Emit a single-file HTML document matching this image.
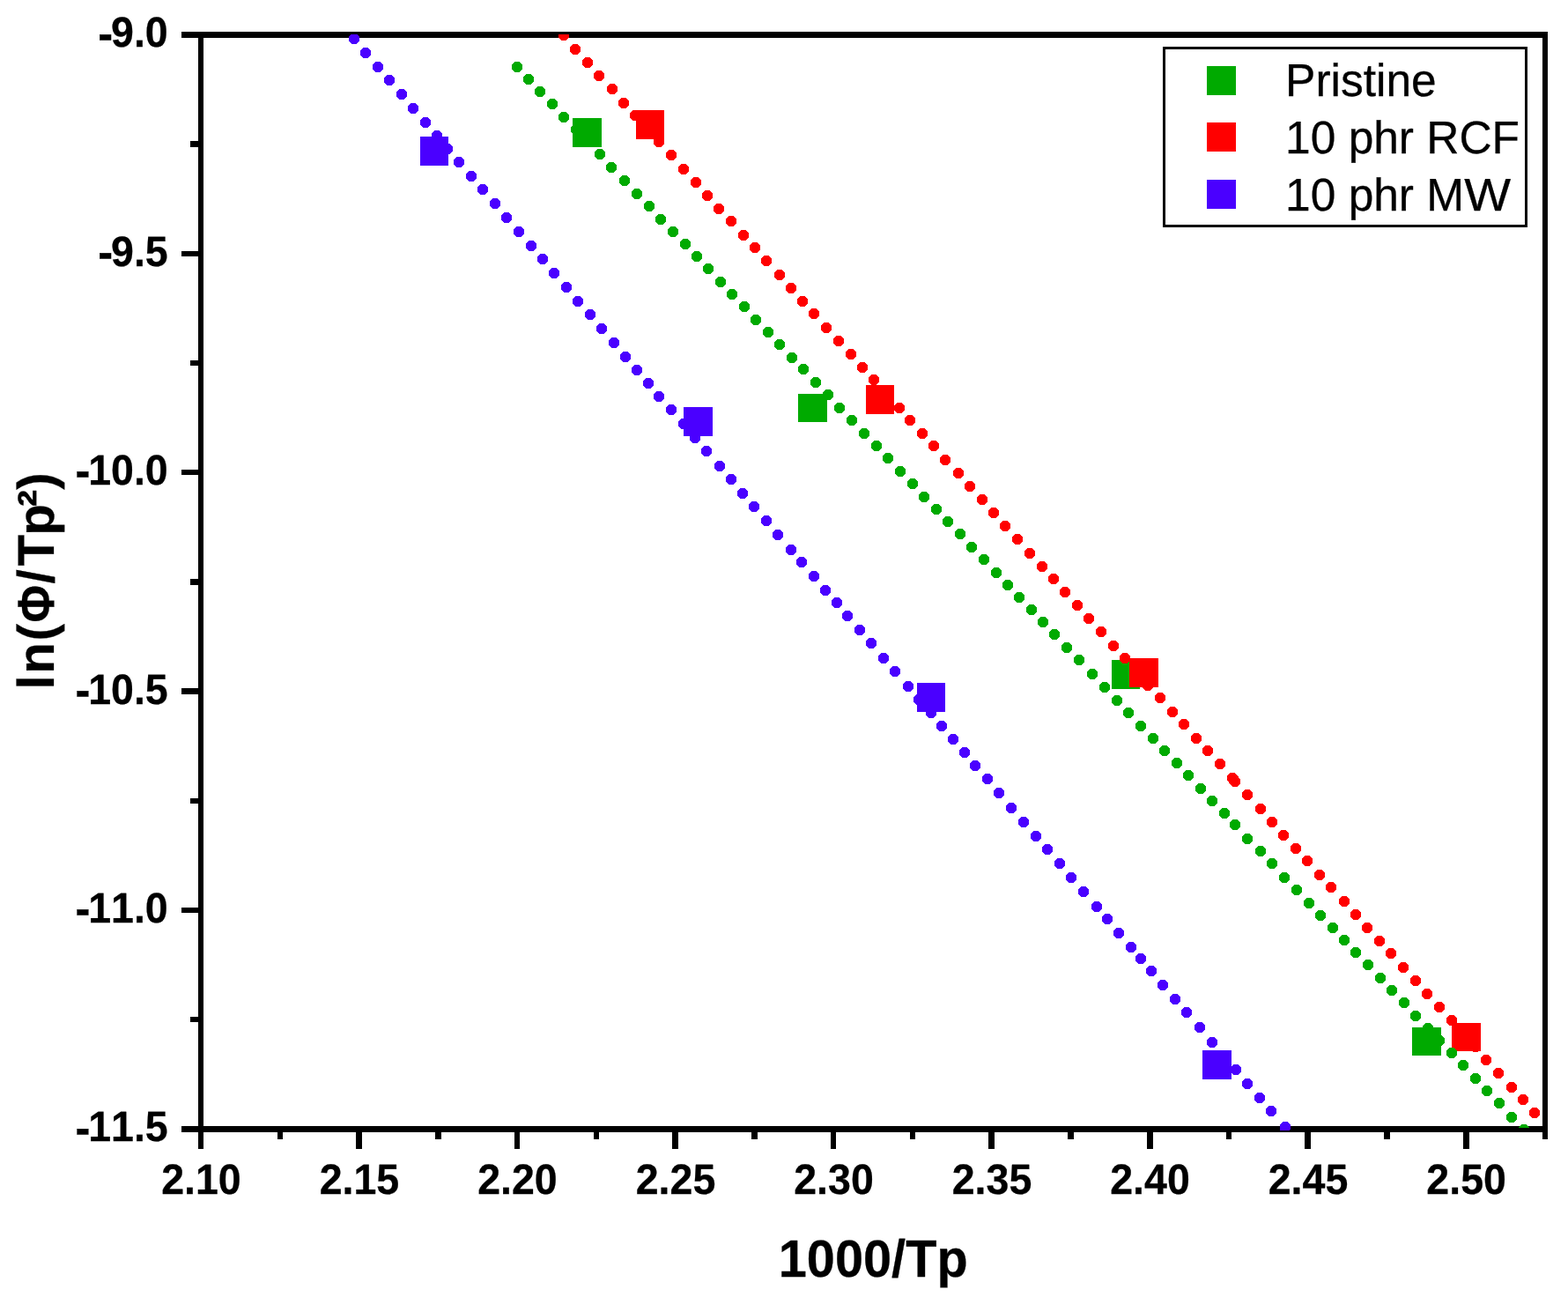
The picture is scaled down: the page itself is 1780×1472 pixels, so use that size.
<!DOCTYPE html>
<html lang="en">
<head>
<meta charset="utf-8">
<title>ln(Φ/Tp²) vs 1000/Tp</title>
<style>
html,body{margin:0;padding:0;background:#fff;}
body{width:1780px;height:1472px;overflow:hidden;position:relative;font-family:"Liberation Sans",sans-serif;}
svg{position:absolute;left:0;top:0;display:block;}
text{font-family:"Liberation Sans",sans-serif;fill:#000;font-kerning:none;font-variant-ligatures:none;text-rendering:geometricPrecision;}
.tick{font-weight:bold;font-size:48.2px;stroke:#000;stroke-width:0.3px;}
.hy{font-size:52.5px;}
.title{font-weight:bold;font-size:59.6px;stroke:#000;stroke-width:0.3px;}
.ytitle{font-weight:bold;font-size:58.5px;stroke:#000;stroke-width:0.3px;}
.leg{font-size:52.2px;stroke:#000;stroke-width:0.3px;}
</style>
</head>
<body>
<svg width="1780" height="1472" viewBox="0 0 1780 1472">
<rect x="0" y="0" width="1780" height="1472" fill="#fff"/>

<g id="axes" shape-rendering="crispEdges" fill="#000">
<rect x="206" y="36" width="1551" height="7"/>
<rect x="206" y="1278" width="1551" height="7"/>
<rect x="225" y="36" width="6" height="1268"/>
<rect x="1751" y="36" width="6" height="1257"/>
<rect x="216" y="160" width="10" height="7"/>
<rect x="206" y="285" width="20" height="6"/>
<rect x="216" y="409" width="10" height="6"/>
<rect x="206" y="533" width="20" height="6"/>
<rect x="216" y="657" width="10" height="7"/>
<rect x="206" y="781" width="20" height="7"/>
<rect x="216" y="906" width="10" height="6"/>
<rect x="206" y="1030" width="20" height="6"/>
<rect x="216" y="1154" width="10" height="6"/>
<rect x="315" y="1284" width="6" height="9"/>
<rect x="404" y="1284" width="7" height="20"/>
<rect x="494" y="1284" width="7" height="9"/>
<rect x="584" y="1284" width="6" height="20"/>
<rect x="674" y="1284" width="6" height="9"/>
<rect x="763" y="1284" width="7" height="20"/>
<rect x="853" y="1284" width="7" height="9"/>
<rect x="943" y="1284" width="6" height="20"/>
<rect x="1033" y="1284" width="6" height="9"/>
<rect x="1122" y="1284" width="7" height="20"/>
<rect x="1212" y="1284" width="7" height="9"/>
<rect x="1302" y="1284" width="7" height="20"/>
<rect x="1392" y="1284" width="6" height="9"/>
<rect x="1481" y="1284" width="7" height="20"/>
<rect x="1571" y="1284" width="7" height="9"/>
<rect x="1661" y="1284" width="7" height="20"/>
</g>
<defs><clipPath id="plotclip"><rect x="228" y="39" width="1526" height="1244"/></clipPath><clipPath id="gend"><rect x="1700" y="1260" width="60" height="20"/></clipPath></defs>
<g id="data" clip-path="url(#plotclip)" shape-rendering="crispEdges">
<g fill="#00aa00">
<rect x="650" y="134" width="33" height="33"/>
<rect x="906" y="447" width="33" height="32"/>
<rect x="1262" y="749" width="32" height="33"/>
<rect x="1603" y="1166" width="33" height="32"/>
</g>
<g fill="#ff0000">
<rect x="722" y="125" width="32" height="33"/>
<rect x="983" y="437" width="32" height="33"/>
<rect x="1282" y="747" width="33" height="33"/>
<rect x="1648" y="1161" width="33" height="32"/>
</g>
<g fill="#4a00ff">
<rect x="477" y="155" width="32" height="33"/>
<rect x="776" y="462" width="33" height="33"/>
<rect x="1041" y="775" width="32" height="33"/>
<rect x="1365" y="1192" width="33" height="33"/>
</g>
<g fill="#00aa00">
<circle cx="587" cy="76" r="6.25"/>
<circle cx="600" cy="90" r="6.25"/>
<circle cx="613" cy="104" r="6.25"/>
<circle cx="627" cy="118" r="6.25"/>
<circle cx="640" cy="133" r="6.25"/>
<circle cx="654" cy="147" r="6.25"/>
<circle cx="668" cy="161" r="6.25"/>
<circle cx="681" cy="175" r="6.25"/>
<circle cx="694" cy="190" r="6.25"/>
<circle cx="709" cy="205" r="6.25"/>
<circle cx="723" cy="220" r="6.25"/>
<circle cx="737" cy="234" r="6.25"/>
<circle cx="750" cy="249" r="6.25"/>
<circle cx="764" cy="263" r="6.25"/>
<circle cx="778" cy="277" r="6.25"/>
<circle cx="791" cy="291" r="6.25"/>
<circle cx="804" cy="305" r="6.25"/>
<circle cx="818" cy="320" r="6.25"/>
<circle cx="831" cy="334" r="6.25"/>
<circle cx="845" cy="348" r="6.25"/>
<circle cx="858" cy="363" r="6.25"/>
<circle cx="872" cy="377" r="6.25"/>
<circle cx="885" cy="391" r="6.25"/>
<circle cx="899" cy="406" r="6.25"/>
<circle cx="912" cy="419" r="6.25"/>
<circle cx="926" cy="434" r="6.25"/>
<circle cx="940" cy="448" r="6.25"/>
<circle cx="953" cy="463" r="6.25"/>
<circle cx="967" cy="477" r="6.25"/>
<circle cx="981" cy="492" r="6.25"/>
<circle cx="995" cy="506" r="6.25"/>
<circle cx="1008" cy="520" r="6.25"/>
<circle cx="1022" cy="535" r="6.25"/>
<circle cx="1036" cy="549" r="6.25"/>
<circle cx="1049" cy="564" r="6.25"/>
<circle cx="1063" cy="578" r="6.25"/>
<circle cx="1076" cy="592" r="6.25"/>
<circle cx="1090" cy="606" r="6.25"/>
<circle cx="1103" cy="621" r="6.25"/>
<circle cx="1117" cy="635" r="6.25"/>
<circle cx="1131" cy="650" r="6.25"/>
<circle cx="1144" cy="664" r="6.25"/>
<circle cx="1157" cy="678" r="6.25"/>
<circle cx="1171" cy="692" r="6.25"/>
<circle cx="1184" cy="706" r="6.25"/>
<circle cx="1197" cy="720" r="6.25"/>
<circle cx="1211" cy="735" r="6.25"/>
<circle cx="1225" cy="749" r="6.25"/>
<circle cx="1240" cy="765" r="6.25"/>
<circle cx="1254" cy="780" r="6.25"/>
<circle cx="1268" cy="795" r="6.25"/>
<circle cx="1281" cy="809" r="6.25"/>
<circle cx="1295" cy="824" r="6.25"/>
<circle cx="1309" cy="838" r="6.25"/>
<circle cx="1322" cy="852" r="6.25"/>
<circle cx="1336" cy="866" r="6.25"/>
<circle cx="1349" cy="880" r="6.25"/>
<circle cx="1363" cy="895" r="6.25"/>
<circle cx="1376" cy="909" r="6.25"/>
<circle cx="1390" cy="923" r="6.25"/>
<circle cx="1402" cy="936" r="6.25"/>
<circle cx="1416" cy="952" r="6.25"/>
<circle cx="1431" cy="966" r="6.25"/>
<circle cx="1444" cy="980" r="6.25"/>
<circle cx="1458" cy="996" r="6.25"/>
<circle cx="1472" cy="1010" r="6.25"/>
<circle cx="1486" cy="1025" r="6.25"/>
<circle cx="1499" cy="1039" r="6.25"/>
<circle cx="1513" cy="1053" r="6.25"/>
<circle cx="1526" cy="1067" r="6.25"/>
<circle cx="1539" cy="1081" r="6.25"/>
<circle cx="1553" cy="1095" r="6.25"/>
<circle cx="1567" cy="1110" r="6.25"/>
<circle cx="1580" cy="1124" r="6.25"/>
<circle cx="1594" cy="1138" r="6.25"/>
<circle cx="1607" cy="1153" r="6.25"/>
<circle cx="1621" cy="1167" r="6.25"/>
<circle cx="1634" cy="1181" r="6.25"/>
<circle cx="1648" cy="1195" r="6.25"/>
<circle cx="1661" cy="1209" r="6.25"/>
<circle cx="1675" cy="1224" r="6.25"/>
<circle cx="1688" cy="1238" r="6.25"/>
<circle cx="1702" cy="1252" r="6.25"/>
<circle cx="1716" cy="1268" r="6.25"/>
<circle cx="1730" cy="1282" r="6.25" clip-path="url(#gend)"/>
</g>
<g fill="#ff0000">
<circle cx="640" cy="40" r="6.25"/>
<circle cx="653" cy="56" r="6.25"/>
<circle cx="667" cy="71" r="6.25"/>
<circle cx="680" cy="86" r="6.25"/>
<circle cx="695" cy="101" r="6.25"/>
<circle cx="708" cy="117" r="6.25"/>
<circle cx="721" cy="131" r="6.25"/>
<circle cx="735" cy="146" r="6.25"/>
<circle cx="748" cy="161" r="6.25"/>
<circle cx="762" cy="176" r="6.25"/>
<circle cx="776" cy="192" r="6.25"/>
<circle cx="790" cy="207" r="6.25"/>
<circle cx="803" cy="222" r="6.25"/>
<circle cx="816" cy="237" r="6.25"/>
<circle cx="830" cy="251" r="6.25"/>
<circle cx="844" cy="267" r="6.25"/>
<circle cx="857" cy="281" r="6.25"/>
<circle cx="870" cy="296" r="6.25"/>
<circle cx="885" cy="312" r="6.25"/>
<circle cx="898" cy="327" r="6.25"/>
<circle cx="911" cy="342" r="6.25"/>
<circle cx="924" cy="356" r="6.25"/>
<circle cx="938" cy="372" r="6.25"/>
<circle cx="952" cy="387" r="6.25"/>
<circle cx="966" cy="402" r="6.25"/>
<circle cx="979" cy="417" r="6.25"/>
<circle cx="992" cy="431" r="6.25"/>
<circle cx="1007" cy="447" r="6.25"/>
<circle cx="1021" cy="463" r="6.25"/>
<circle cx="1033" cy="477" r="6.25"/>
<circle cx="1047" cy="492" r="6.25"/>
<circle cx="1060" cy="506" r="6.25"/>
<circle cx="1073" cy="522" r="6.25"/>
<circle cx="1088" cy="537" r="6.25"/>
<circle cx="1101" cy="552" r="6.25"/>
<circle cx="1115" cy="567" r="6.25"/>
<circle cx="1128" cy="582" r="6.25"/>
<circle cx="1141" cy="597" r="6.25"/>
<circle cx="1155" cy="612" r="6.25"/>
<circle cx="1169" cy="628" r="6.25"/>
<circle cx="1183" cy="643" r="6.25"/>
<circle cx="1196" cy="657" r="6.25"/>
<circle cx="1209" cy="672" r="6.25"/>
<circle cx="1223" cy="687" r="6.25"/>
<circle cx="1236" cy="702" r="6.25"/>
<circle cx="1250" cy="717" r="6.25"/>
<circle cx="1264" cy="733" r="6.25"/>
<circle cx="1277" cy="747" r="6.25"/>
<circle cx="1290" cy="762" r="6.25"/>
<circle cx="1303" cy="778" r="6.25"/>
<circle cx="1317" cy="792" r="6.25"/>
<circle cx="1331" cy="808" r="6.25"/>
<circle cx="1344" cy="822" r="6.25"/>
<circle cx="1358" cy="838" r="6.25"/>
<circle cx="1371" cy="852" r="6.25"/>
<circle cx="1385" cy="867" r="6.25"/>
<circle cx="1399" cy="883" r="6.25"/>
<circle cx="1402" cy="887" r="6.25"/>
<circle cx="1416" cy="902" r="6.25"/>
<circle cx="1431" cy="918" r="6.25"/>
<circle cx="1444" cy="933" r="6.25"/>
<circle cx="1457" cy="948" r="6.25"/>
<circle cx="1471" cy="963" r="6.25"/>
<circle cx="1484" cy="977" r="6.25"/>
<circle cx="1498" cy="993" r="6.25"/>
<circle cx="1511" cy="1007" r="6.25"/>
<circle cx="1526" cy="1023" r="6.25"/>
<circle cx="1539" cy="1038" r="6.25"/>
<circle cx="1552" cy="1053" r="6.25"/>
<circle cx="1566" cy="1068" r="6.25"/>
<circle cx="1579" cy="1082" r="6.25"/>
<circle cx="1593" cy="1098" r="6.25"/>
<circle cx="1607" cy="1113" r="6.25"/>
<circle cx="1620" cy="1128" r="6.25"/>
<circle cx="1634" cy="1143" r="6.25"/>
<circle cx="1648" cy="1158" r="6.25"/>
<circle cx="1661" cy="1173" r="6.25"/>
<circle cx="1675" cy="1188" r="6.25"/>
<circle cx="1687" cy="1203" r="6.25"/>
<circle cx="1701" cy="1218" r="6.25"/>
<circle cx="1716" cy="1234" r="6.25"/>
<circle cx="1729" cy="1248" r="6.25"/>
<circle cx="1742" cy="1263" r="6.25"/>
<line x1="1399" y1="883" x2="1402" y2="887" stroke="#ff0000" stroke-width="12.5" stroke-linecap="round"/>
</g>
<g fill="#4a00ff">
<circle cx="402" cy="44" r="6.25"/>
<circle cx="415" cy="60" r="6.25"/>
<circle cx="429" cy="76" r="6.25"/>
<circle cx="442" cy="91" r="6.25"/>
<circle cx="456" cy="107" r="6.25"/>
<circle cx="469" cy="123" r="6.25"/>
<circle cx="483" cy="139" r="6.25"/>
<circle cx="496" cy="154" r="6.25"/>
<circle cx="508" cy="169" r="6.25"/>
<circle cx="521" cy="184" r="6.25"/>
<circle cx="535" cy="200" r="6.25"/>
<circle cx="548" cy="215" r="6.25"/>
<circle cx="562" cy="231" r="6.25"/>
<circle cx="575" cy="247" r="6.25"/>
<circle cx="589" cy="263" r="6.25"/>
<circle cx="603" cy="279" r="6.25"/>
<circle cx="616" cy="294" r="6.25"/>
<circle cx="629" cy="310" r="6.25"/>
<circle cx="643" cy="326" r="6.25"/>
<circle cx="656" cy="342" r="6.25"/>
<circle cx="670" cy="357" r="6.25"/>
<circle cx="683" cy="373" r="6.25"/>
<circle cx="697" cy="389" r="6.25"/>
<circle cx="710" cy="405" r="6.25"/>
<circle cx="723" cy="420" r="6.25"/>
<circle cx="736" cy="435" r="6.25"/>
<circle cx="748" cy="450" r="6.25"/>
<circle cx="762" cy="465" r="6.25"/>
<circle cx="776" cy="481" r="6.25"/>
<circle cx="789" cy="497" r="6.25"/>
<circle cx="802" cy="512" r="6.25"/>
<circle cx="817" cy="529" r="6.25"/>
<circle cx="830" cy="544" r="6.25"/>
<circle cx="843" cy="560" r="6.25"/>
<circle cx="856" cy="575" r="6.25"/>
<circle cx="870" cy="591" r="6.25"/>
<circle cx="883" cy="607" r="6.25"/>
<circle cx="898" cy="624" r="6.25"/>
<circle cx="910" cy="638" r="6.25"/>
<circle cx="924" cy="654" r="6.25"/>
<circle cx="937" cy="670" r="6.25"/>
<circle cx="950" cy="684" r="6.25"/>
<circle cx="962" cy="699" r="6.25"/>
<circle cx="976" cy="715" r="6.25"/>
<circle cx="989" cy="730" r="6.25"/>
<circle cx="1003" cy="747" r="6.25"/>
<circle cx="1016" cy="762" r="6.25"/>
<circle cx="1031" cy="779" r="6.25"/>
<circle cx="1043" cy="794" r="6.25"/>
<circle cx="1057" cy="809" r="6.25"/>
<circle cx="1069" cy="824" r="6.25"/>
<circle cx="1082" cy="839" r="6.25"/>
<circle cx="1095" cy="854" r="6.25"/>
<circle cx="1107" cy="869" r="6.25"/>
<circle cx="1121" cy="884" r="6.25"/>
<circle cx="1134" cy="900" r="6.25"/>
<circle cx="1148" cy="917" r="6.25"/>
<circle cx="1162" cy="933" r="6.25"/>
<circle cx="1176" cy="949" r="6.25"/>
<circle cx="1189" cy="964" r="6.25"/>
<circle cx="1203" cy="980" r="6.25"/>
<circle cx="1216" cy="996" r="6.25"/>
<circle cx="1230" cy="1012" r="6.25"/>
<circle cx="1245" cy="1029" r="6.25"/>
<circle cx="1257" cy="1043" r="6.25"/>
<circle cx="1270" cy="1059" r="6.25"/>
<circle cx="1284" cy="1075" r="6.25"/>
<circle cx="1295" cy="1088" r="6.25"/>
<circle cx="1307" cy="1102" r="6.25"/>
<circle cx="1320" cy="1118" r="6.25"/>
<circle cx="1334" cy="1134" r="6.25"/>
<circle cx="1347" cy="1149" r="6.25"/>
<circle cx="1362" cy="1166" r="6.25"/>
<circle cx="1376" cy="1183" r="6.25"/>
<circle cx="1389" cy="1199" r="6.25"/>
<circle cx="1403" cy="1214" r="6.25"/>
<circle cx="1416" cy="1230" r="6.25"/>
<circle cx="1430" cy="1246" r="6.25"/>
<circle cx="1443" cy="1261" r="6.25"/>
<circle cx="1459" cy="1279" r="6.25"/>
<rect x="1453" y="1279" width="11" height="6"/>
</g>
</g>
<g id="legend" shape-rendering="crispEdges">
<rect x="1321.5" y="54.5" width="411" height="202" fill="#fff" stroke="#000" stroke-width="3"/>
<rect x="1370" y="75" width="33" height="33" fill="#00aa00"/>
<rect x="1370" y="139" width="33" height="33" fill="#ff0000"/>
<rect x="1370" y="204" width="33" height="33" fill="#4a00ff"/>
</g>
<text class="leg" transform="translate(1459.1,108.8) scale(0.986,1)">Pristine</text>
<text class="leg" transform="translate(1459.1,173.9) scale(0.986,1)">10 phr RCF</text>
<text class="leg" transform="translate(1459.1,238.9) scale(0.986,1)">10 phr M<tspan textLength="53.6" lengthAdjust="spacingAndGlyphs">W</tspan></text>
<text class="tick" transform="translate(188.6,53.3) scale(0.965,1)" text-anchor="end"><tspan class="hy" dx="2.2" dy="2.3">-</tspan><tspan dx="-2.2" dy="-2.3">9.0</tspan></text>
<text class="tick" transform="translate(188.6,301.7) scale(0.965,1)" text-anchor="end"><tspan class="hy" dx="2.2" dy="2.3">-</tspan><tspan dx="-2.2" dy="-2.3">9.5</tspan></text>
<text class="tick" transform="translate(188.6,550.1) scale(0.965,1)" text-anchor="end"><tspan class="hy" dx="2.2" dy="2.3">-</tspan><tspan dx="-2.2" dy="-2.3">10.0</tspan></text>
<text class="tick" transform="translate(188.6,798.5) scale(0.965,1)" text-anchor="end"><tspan class="hy" dx="2.2" dy="2.3">-</tspan><tspan dx="-2.2" dy="-2.3">10.5</tspan></text>
<text class="tick" transform="translate(188.6,1046.9) scale(0.965,1)" text-anchor="end"><tspan class="hy" dx="2.2" dy="2.3">-</tspan><tspan dx="-2.2" dy="-2.3">11.0</tspan></text>
<text class="tick" transform="translate(188.6,1295.3) scale(0.965,1)" text-anchor="end"><tspan class="hy" dx="2.2" dy="2.3">-</tspan><tspan dx="-2.2" dy="-2.3">11.5</tspan></text>
<text class="tick" transform="translate(228.4,1354.5) scale(0.965,1)" text-anchor="middle">2.10</text>
<text class="tick" transform="translate(407.9,1354.5) scale(0.965,1)" text-anchor="middle">2.15</text>
<text class="tick" transform="translate(587.4,1354.5) scale(0.965,1)" text-anchor="middle">2.20</text>
<text class="tick" transform="translate(767.0,1354.5) scale(0.965,1)" text-anchor="middle">2.25</text>
<text class="tick" transform="translate(946.5,1354.5) scale(0.965,1)" text-anchor="middle">2.30</text>
<text class="tick" transform="translate(1126.0,1354.5) scale(0.965,1)" text-anchor="middle">2.35</text>
<text class="tick" transform="translate(1305.5,1354.5) scale(0.965,1)" text-anchor="middle">2.40</text>
<text class="tick" transform="translate(1485.0,1354.5) scale(0.965,1)" text-anchor="middle">2.45</text>
<text class="tick" transform="translate(1664.6,1354.5) scale(0.965,1)" text-anchor="middle">2.50</text>
<text class="title" transform="translate(991.2,1448.9) scale(0.968,1)" text-anchor="middle">1000/Tp</text>
<text class="ytitle" transform="translate(60.9,782.6) rotate(-90)" y="0"><tspan x="0 17.96 55.0">ln(</tspan><tspan x="76.0" textLength="42.5" lengthAdjust="spacingAndGlyphs">Φ</tspan><tspan x="120.0 140.08 174.83 207.28 226.76">/Tp²)</tspan></text>
</svg>
</body>
</html>
